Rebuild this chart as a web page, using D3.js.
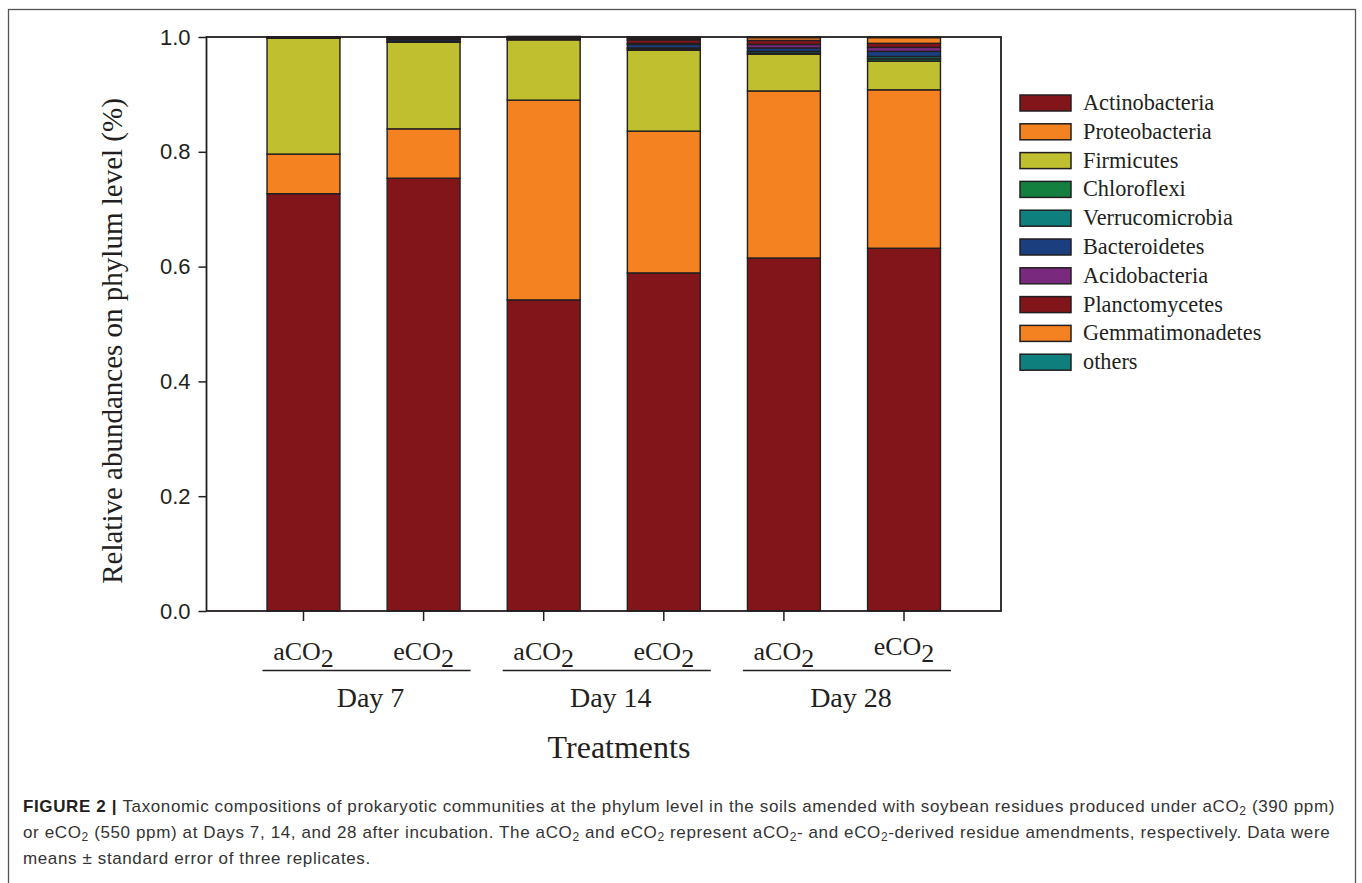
<!DOCTYPE html>
<html><head><meta charset="utf-8">
<script src="https://cdn.jsdelivr.net/npm/d3@7"></script>
<style>
html,body{margin:0;padding:0;background:#fff;}
svg{display:block;}
</style></head>
<body>
<svg id="chart" width="1362" height="883"></svg>
<script>
// ---- data ----
const treatments = ["aCO","eCO","aCO","eCO","aCO","eCO"];
const barIds = ["d7a","d7e","d14a","d14e","d28a","d28e"];
const days = ["Day 7","Day 14","Day 28"];
const phyla = ["Actinobacteria","Proteobacteria","Firmicutes","Chloroflexi","Verrucomicrobia","Bacteroidetes","Acidobacteria","Planctomycetes","Gemmatimonadetes","others"];
const actinobacteria   = [0.727,0.754,0.542,0.589,0.615,0.632];
const proteobacteria   = [0.069,0.086,0.348,0.247,0.291,0.276];
const firmicutes       = [0.202,0.151,0.105,0.141,0.064,0.050];
const chloroflexi      = [0.0003,0.001,0.001,0.002,0.002,0.004];
const verrucomicrobia  = [0.0003,0.001,0.001,0.002,0.003,0.004];
const bacteroidetes    = [0.0004,0.003,0.001,0.006,0.006,0.009];
const acidobacteria    = [0.0002,0.001,0.0005,0.002,0.006,0.007];
const planctomycetes   = [0.0004,0.002,0.001,0.006,0.007,0.007];
const gemmatimonadetes = [0.0002,0.0005,0.0005,0.002,0.005,0.010];
const others           = [0.0002,0.0005,0.001,0.003,0.001,0.001];
const yTicks = [0,0.2,0.4,0.6,0.8,1.0];
const colors = ["#82151a","#f58220","#bfbf30","#13803f","#0f7f7d","#1a3e7e","#7a2a7e","#82151a","#f58220","#0f7f7d"];

const seriesArrays = [actinobacteria,proteobacteria,firmicutes,chloroflexi,verrucomicrobia,bacteroidetes,acidobacteria,planctomycetes,gemmatimonadetes,others];
const rows = barIds.map((id,i)=>{const o={id};phyla.forEach((p,k)=>o[p]=seriesArrays[k][i]);return o;});

const svg = d3.select("#chart");
const ink = "#231f20";
const serif = "'Liberation Serif','Times New Roman',serif";
const sans = "'Liberation Sans',Arial,Helvetica,sans-serif";

// outer frame
svg.append("rect").attr("x",8.5).attr("y",9.5).attr("width",1347).attr("height",900)
  .attr("fill","none").attr("stroke","#555").attr("stroke-width",1.3);

const L=206.5, R=1001, T=37, B=611;
const x = d3.scaleBand().domain(barIds).range([L,R]).paddingInner(0.393).paddingOuter(0.504);
const y = d3.scaleLinear().domain([0,1]).range([B,T]);

const stacked = d3.stack().keys(phyla)(rows);

// bars
const g = svg.append("g");
stacked.forEach((layer,k)=>{
  g.selectAll(null).data(layer).enter().append("rect")
    .attr("x",d=>x(d.data.id))
    .attr("width",x.bandwidth())
    .attr("y",d=>y(d[1]))
    .attr("height",d=>Math.max(0,y(d[0])-y(d[1])))
    .attr("fill",colors[k])
    .attr("stroke",ink).attr("stroke-width",1.4);
});

// plot frame
svg.append("rect").attr("x",L).attr("y",T).attr("width",R-L).attr("height",B-T)
  .attr("fill","none").attr("stroke",ink).attr("stroke-width",1.8);

// y axis
const yAxis = d3.axisLeft(y).tickValues(yTicks).tickFormat(d3.format(".1f")).tickSize(8).tickPadding(8);
const ya = svg.append("g").attr("transform",`translate(${L},0)`).call(yAxis);
ya.select(".domain").remove();
ya.selectAll("line").attr("stroke",ink).attr("stroke-width",1.5);
ya.selectAll("text").attr("font-family",sans).attr("font-size",22).attr("fill",ink);

// x axis ticks
const xa = svg.append("g").attr("transform",`translate(0,${B})`).call(d3.axisBottom(x).tickSize(10).tickFormat(""));
xa.select(".domain").remove();
xa.selectAll("line").attr("stroke",ink).attr("stroke-width",1.5);

// x labels with subscript
barIds.forEach((id,i)=>{
  const cx = x(id)+x.bandwidth()/2;
  const t = svg.append("text").attr("x",cx).attr("y",i===5?655:660).attr("text-anchor","middle")
    .attr("font-family",serif).attr("font-size",26).attr("fill",ink);
  t.append("tspan").text(treatments[i]);
  t.append("tspan").attr("dy",7).text("2");
});

// day group lines and labels
days.forEach((d,j)=>{
  const a = x(barIds[2*j]) + x.bandwidth()/2;
  const b = x(barIds[2*j+1]) + x.bandwidth()/2;
  svg.append("line").attr("x1",a-41).attr("x2",b+47).attr("y1",670.5).attr("y2",670.5)
    .attr("stroke",ink).attr("stroke-width",1.5);
  svg.append("text").attr("x",(a+b)/2+7).attr("y",707)
    .attr("text-anchor","middle").attr("font-family",serif).attr("font-size",28).attr("fill",ink)
    .text(d);
});

// axis titles
svg.append("text").attr("x",619).attr("y",758).attr("text-anchor","middle")
  .attr("font-family",serif).attr("font-size",32).attr("fill",ink).text("Treatments");
svg.append("text").attr("transform","translate(122,341) rotate(-90)").attr("text-anchor","middle")
  .attr("font-family",serif).attr("font-size",29).attr("fill",ink)
  .text("Relative abundances on phylum level (%)");

// legend
const lg = svg.append("g");
phyla.forEach((p,i)=>{
  const yy = 95 + i*28.8;
  lg.append("rect").attr("x",1020).attr("y",yy).attr("width",51).attr("height",16)
    .attr("fill",colors[i]).attr("stroke",ink).attr("stroke-width",1.5);
  lg.append("text").attr("x",1083).attr("y",yy+15).attr("font-family",serif)
    .attr("font-size",22.3).attr("fill",ink).text(p);
});

// caption
const cap = svg.append("g").attr("font-family",sans).attr("font-size",17).attr("letter-spacing",0.62).attr("fill","#333");
function sub(t,s){ t.append("tspan").attr("font-size",12).attr("baseline-shift","-25%").text(s); }
const l1 = cap.append("text").attr("x",23).attr("y",812);
l1.append("tspan").attr("font-weight","bold").attr("fill","#231f20").text("FIGURE 2 | ");
l1.append("tspan").text("Taxonomic compositions of prokaryotic communities at the phylum level in the soils amended with soybean residues produced under aCO");
sub(l1,"2"); l1.append("tspan").text(" (390 ppm)");
const l2 = cap.append("text").attr("x",23).attr("y",838);
l2.append("tspan").text("or eCO"); sub(l2,"2");
l2.append("tspan").text(" (550 ppm) at Days 7, 14, and 28 after incubation. The aCO"); sub(l2,"2");
l2.append("tspan").text(" and eCO"); sub(l2,"2");
l2.append("tspan").text(" represent aCO"); sub(l2,"2");
l2.append("tspan").text("- and eCO"); sub(l2,"2");
l2.append("tspan").text("-derived residue amendments, respectively. Data were");
cap.append("text").attr("x",23).attr("y",864).text("means \u00b1 standard error of three replicates.");
</script>
</body></html>
